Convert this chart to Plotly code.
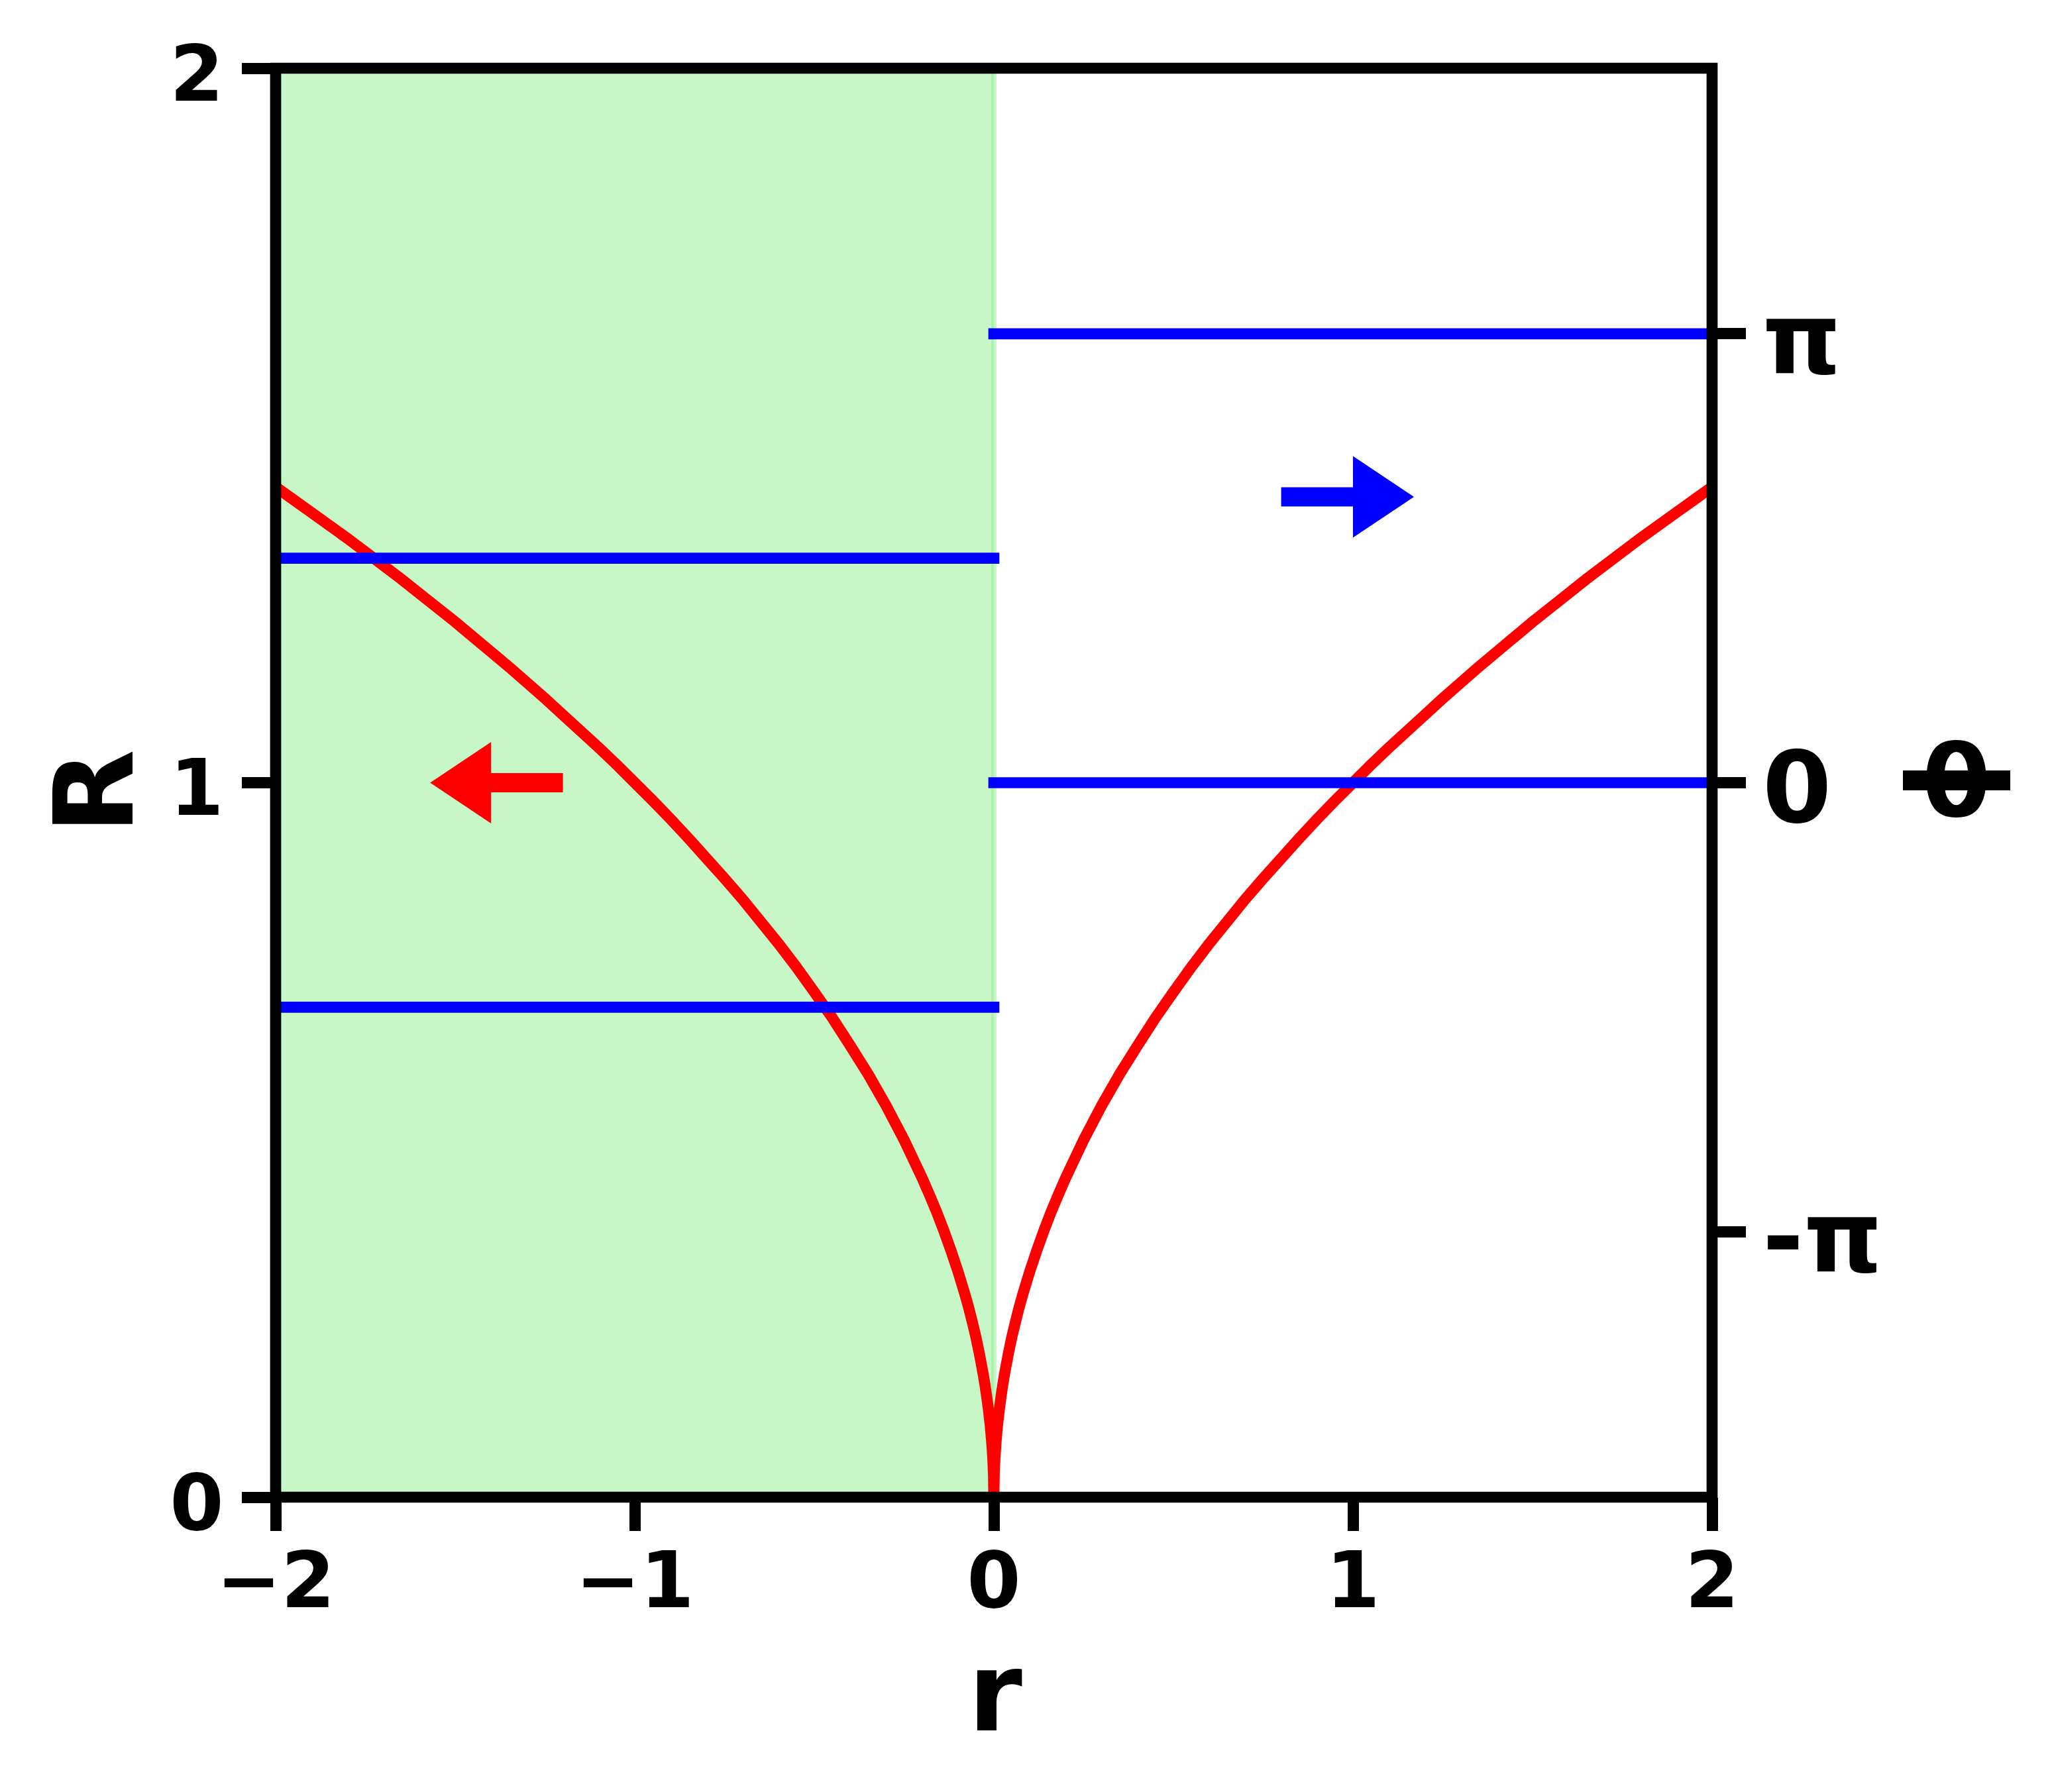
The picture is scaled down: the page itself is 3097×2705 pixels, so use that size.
import numpy as np
import plotly.graph_objects as go

# ---------------- data ----------------
r_left = [-2.0, -1.95, -1.9, -1.85, -1.8, -1.75, -1.7, -1.65, -1.6, -1.55, -1.5, -1.45, -1.4,
          -1.35, -1.3, -1.25, -1.2, -1.15, -1.1, -1.05, -1.0, -0.95, -0.9, -0.85, -0.8, -0.75,
          -0.7, -0.65, -0.6, -0.55, -0.5, -0.45, -0.4, -0.35, -0.3, -0.25, -0.2, -0.18, -0.16,
          -0.14, -0.12, -0.1, -0.08, -0.07, -0.06, -0.05, -0.04, -0.03, -0.025, -0.02, -0.015,
          -0.01, -0.006, -0.003, -0.001]
R_left = [1.414, 1.396, 1.378, 1.360, 1.342, 1.323, 1.304, 1.285, 1.265, 1.245, 1.225, 1.204, 1.183,
          1.162, 1.140, 1.118, 1.095, 1.072, 1.049, 1.025, 1.000, 0.975, 0.949, 0.922, 0.894, 0.866,
          0.837, 0.806, 0.775, 0.742, 0.707, 0.671, 0.632, 0.592, 0.548, 0.500, 0.447, 0.424, 0.400,
          0.374, 0.346, 0.316, 0.283, 0.265, 0.245, 0.224, 0.200, 0.173, 0.158, 0.141, 0.122,
          0.100, 0.077, 0.055, 0.032]
r_cusp = [0.0]
R_cusp = [0.0]
r_right = [0.001, 0.003, 0.006, 0.01, 0.015, 0.02, 0.025, 0.03, 0.04, 0.05, 0.06, 0.07, 0.08,
           0.1, 0.12, 0.14, 0.16, 0.18, 0.2, 0.25, 0.3, 0.35, 0.4, 0.45, 0.5, 0.55, 0.6, 0.65,
           0.7, 0.75, 0.8, 0.85, 0.9, 0.95, 1.0, 1.05, 1.1, 1.15, 1.2, 1.25, 1.3, 1.35, 1.4,
           1.45, 1.5, 1.55, 1.6, 1.65, 1.7, 1.75, 1.8, 1.85, 1.9, 1.95, 2.0]
R_right = [0.032, 0.055, 0.077, 0.100, 0.122, 0.141, 0.158, 0.173, 0.200, 0.224, 0.245, 0.265, 0.283,
           0.316, 0.346, 0.374, 0.400, 0.424, 0.447, 0.500, 0.548, 0.592, 0.632, 0.671, 0.707, 0.742,
           0.775, 0.806, 0.837, 0.866, 0.894, 0.922, 0.949, 0.975, 1.000, 1.025, 1.049, 1.072, 1.095,
           1.118, 1.140, 1.162, 1.183, 1.204, 1.225, 1.245, 1.265, 1.285, 1.304, 1.323, 1.342, 1.360,
           1.378, 1.396, 1.414]

# blue level lines on the theta axis
theta_left_levels = [np.pi / 2, -np.pi / 2]   # drawn for r in [-2, 0]
theta_right_levels = [0.0, np.pi]             # drawn for r in [0, 2]
r_left_span = [-2.0, 0.0]
r_right_span = [0.0, 2.0]

# shaded region
shade_r = [-2.0, 0.0]

# arrows: (start r, level, direction dx)
red_arrow = dict(x=-1.2, y=1.0, dx=-0.2)     # on R axis
blue_arrow = dict(x=0.8, y=2.0, dx=0.2)      # on theta axis

# axes
x_ticks = [-2, -1, 0, 1, 2]
x_ticktext = ["\u22122", "\u22121", "0", "1", "2"]
R_ticks = [0, 1, 2]
R_ticktext = ["0", "1", "2"]
theta_ticks = [-np.pi, 0.0, np.pi]
theta_ticktext = ["-\u03c0", "0", "\u03c0"]

# ---------------- layout geometry ----------------
OFF = 8                      # page body margin
W, H = 3097 - 2 * OFF, 2705 - 2 * OFF
PLOT_L, PLOT_R, PLOT_T, PLOT_B = 416, 2584, 103, 2260   # screen px
L = PLOT_L - OFF
T = PLOT_T - OFF
PW = PLOT_R - PLOT_L
PH = PLOT_B - PLOT_T
Rm = W - L - PW
B = H - T - PH
XR = [-2, 2]
YR = [0, 2]
Y2R = [-5, 5]
px_per_x = PW / (XR[1] - XR[0])
px_per_R = PH / (YR[1] - YR[0])
px_per_T = PH / (Y2R[1] - Y2R[0])

FONT = "DejaVu Sans"
LW = 16.7
CAP = LW / 2 / px_per_x      # emulate projecting line caps

def paper_x(px):
    return (px - PLOT_L) / PW

def paper_y(py):
    return (PLOT_B - py) / PH

def arrow_poly(a, px_per_y, shaft_px=29, head_w_px=123, head_len_px=92):
    x0, y0, dx = a["x"], a["y"], a["dx"]
    s = np.sign(dx)
    hl = head_len_px / px_per_x
    sw = shaft_px / 2 / px_per_y
    hw = head_w_px / 2 / px_per_y
    xb = x0 + dx
    xt = xb + s * hl
    xs = [x0, xb, xb, xt, xb, xb, x0, x0]
    ys = [y0 - sw, y0 - sw, y0 - hw, y0, y0 + hw, y0 + sw, y0 + sw, y0 - sw]
    return xs, ys

fig = go.Figure()

# green shaded region
fig.add_shape(type="rect", xref="x", yref="y", x0=shade_r[0], x1=shade_r[1], y0=YR[0], y1=YR[1],
              fillcolor="rgba(144,238,144,0.5)", line=dict(color="rgba(144,238,144,0.5)", width=8),
              layer="below")

# red curve
fig.add_trace(go.Scatter(x=r_left + r_cusp + r_right, y=R_left + R_cusp + R_right, mode="lines",
                         line=dict(color="#ff0000", width=LW, shape="linear", simplify=False),
                         showlegend=False, hoverinfo="skip", xaxis="x", yaxis="y"))

# red arrow
xs, ys = arrow_poly(red_arrow, px_per_R)
fig.add_trace(go.Scatter(x=xs, y=ys, mode="lines", fill="toself", fillcolor="#ff0000",
                         line=dict(color="#ff0000", width=0), showlegend=False, hoverinfo="skip",
                         xaxis="x", yaxis="y"))

# blue lines on theta axis
def capped(span):
    return [span[0] - CAP, span[1] + CAP]

for lv in theta_left_levels:
    fig.add_trace(go.Scatter(x=capped(r_left_span), y=[lv, lv], mode="lines",
                             line=dict(color="#0000ff", width=LW),
                             showlegend=False, hoverinfo="skip", xaxis="x", yaxis="y2"))
for lv in theta_right_levels:
    fig.add_trace(go.Scatter(x=capped(r_right_span), y=[lv, lv], mode="lines",
                             line=dict(color="#0000ff", width=LW),
                             showlegend=False, hoverinfo="skip", xaxis="x", yaxis="y2"))

# blue arrow
xs, ys = arrow_poly(blue_arrow, px_per_T)
fig.add_trace(go.Scatter(x=xs, y=ys, mode="lines", fill="toself", fillcolor="#0000ff",
                         line=dict(color="#0000ff", width=0), showlegend=False, hoverinfo="skip",
                         xaxis="x", yaxis="y2"))

tickfont_small = dict(family=FONT, size=117, color="black", weight="bold")
tickfont_big = dict(family=FONT, size=150, color="black", weight="bold")

common = dict(showgrid=False, zeroline=False, showline=False, ticks="outside", ticklen=50,
              tickwidth=LW, tickcolor="black", fixedrange=True)

fig.update_layout(
    width=W, height=H,
    margin=dict(l=L, r=Rm, t=T, b=B, pad=0),
    paper_bgcolor="white", plot_bgcolor="white",
    showlegend=False,
    xaxis=dict(range=XR, tickvals=x_ticks, ticktext=x_ticktext, tickfont=tickfont_small,
               ticklabelstandoff=-25, **common),
    yaxis=dict(range=YR, tickvals=R_ticks, ticktext=R_ticktext, tickfont=tickfont_small,
               ticklabelstandoff=4, ticklabelshift=8, **common),
    yaxis2=dict(range=Y2R, tickvals=theta_ticks, ticktext=theta_ticktext, tickfont=tickfont_big,
                overlaying="y", side="right", ticklabelstandoff=-5, ticklabelshift=7, **common),
)

# frame (spines centred on the data limits)
fig.add_shape(type="rect", xref="paper", yref="paper", x0=0, x1=1, y0=0, y1=1,
              line=dict(color="black", width=LW), fillcolor="rgba(0,0,0,0)", layer="above")

# axis titles
fig.add_annotation(text="r", xref="paper", yref="paper", x=paper_x(1502), y=paper_y(2554),
                   xanchor="center", yanchor="middle", showarrow=False,
                   font=dict(family=FONT, size=166, color="black", weight="bold"))
fig.add_annotation(text="R", xref="paper", yref="paper", x=paper_x(142), y=paper_y(1195),
                   xanchor="center", yanchor="middle", showarrow=False, textangle=-90,
                   font=dict(family=FONT, size=166, color="black", weight="bold"))
fig.add_annotation(text="\u03b8", xref="paper", yref="paper", x=paper_x(2952), y=paper_y(1180),
                   xanchor="center", yanchor="middle", showarrow=False,
                   font=dict(family=FONT, size=150, color="black", weight="bold"))
fig.add_shape(type="rect", xref="paper", yref="paper",
              x0=paper_x(2872), x1=paper_x(3034), y0=paper_y(1193), y1=paper_y(1163),
              fillcolor="black", line=dict(width=0), layer="above")

fig.write_html("out.html")
